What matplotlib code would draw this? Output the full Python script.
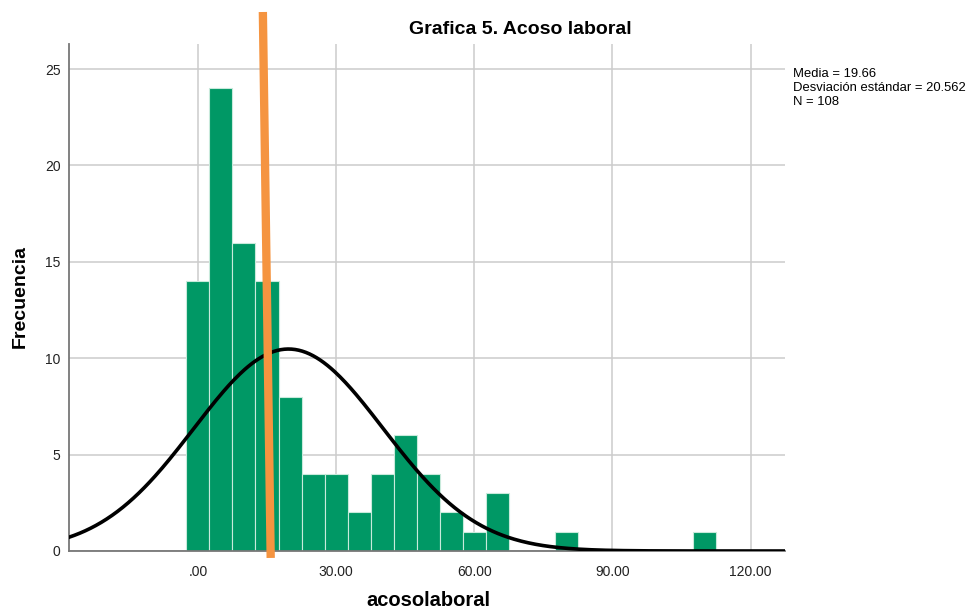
import numpy as np
import matplotlib
matplotlib.use('Agg')
from matplotlib import pyplot as plt

# bin centres (width 5) and counts
bin_centres = [0, 5, 10, 15, 20, 25, 30, 35, 40, 45, 50, 55, 60, 65, 80, 110]
counts = [14, 24, 16, 14, 8, 4, 4, 2, 4, 6, 4, 2, 1, 3, 1, 1]
bin_width = 5

media = 19.66
desv = 20.562
n = 108

x_ticks = [0, 30, 60, 90, 120]
x_tick_labels = ['.00', '30.00', '60.00', '90.00', '120.00']
y_ticks = [0, 5, 10, 15, 20, 25]

plt.rcParams['font.family'] = ['Liberation Sans', 'DejaVu Sans']

fig = plt.figure(figsize=(9.77, 6.11), dpi=100)
ax = fig.add_axes([0.0706, 0.0982, 0.733, 0.8298])

ax.bar(bin_centres, counts, width=bin_width, color='#009865',
       edgecolor='#c8eadb', linewidth=0.8, zorder=2)

# normal curve scaled to counts
xs = np.linspace(-28, 127.5, 400)
ys = n * bin_width * np.exp(-0.5 * ((xs - media) / desv) ** 2) / (desv * np.sqrt(2 * np.pi))
ax.plot(xs, ys, color='black', linewidth=2.6, zorder=3)

ax.set_xlim(-28, 127.5)
ax.set_ylim(0, 26.3)
ax.set_xticks(x_ticks)
ax.set_xticklabels(x_tick_labels)
ax.set_yticks(y_ticks)
ax.tick_params(length=0, labelsize=10, colors='#222222', pad=10)
ax.tick_params(axis='y', pad=6)
ax.grid(True, color='#cccccc', linewidth=1.1, zorder=0)
ax.set_axisbelow(True)
for s in ['top', 'right']:
    ax.spines[s].set_visible(False)
for s in ['left', 'bottom']:
    ax.spines[s].set_color('#777777')
    ax.spines[s].set_linewidth(1.3)

fig.text(520 / 977, 1 - 30 / 611, 'Grafica 5. Acoso laboral', fontsize=14,
         fontweight='bold', ha='center', va='center')
fig.text(428 / 977, 1 - 601 / 611, 'acosolaboral', fontsize=14.5,
         fontweight='bold', ha='center', va='center')
fig.text(20 / 977, 1 - 297 / 611, 'Frecuencia', fontsize=14, fontweight='bold',
         ha='center', va='center', rotation=90)

fig.text(0.8117, 0.888, 'Media = 19.66\nDesviación estándar = 20.562\nN = 108',
         fontsize=9.4, va='top', ha='left', linespacing=1.2)

# orange marker line drawn over the chart
ax.plot([14.1, 15.8], [27.96, -0.36], color='#f59440', linewidth=6,
        solid_capstyle='butt', clip_on=False, zorder=5)

fig.savefig('out.png', dpi=100)
